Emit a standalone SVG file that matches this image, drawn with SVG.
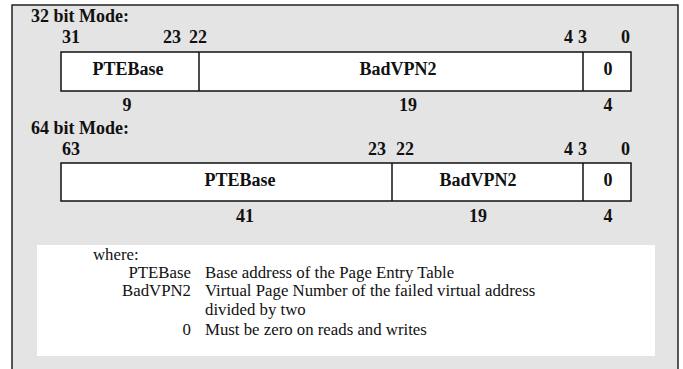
<svg xmlns="http://www.w3.org/2000/svg" width="683" height="369" viewBox="0 0 683 369">
  <style>
    .b { font-family: "Liberation Serif", "Times New Roman", serif; font-weight: bold; font-size: 18px; fill: #111; }
    .t { font-family: "Liberation Serif", "Times New Roman", serif; font-size: 16.8px; fill: #111; }
    .mid { text-anchor: middle; }
    .end { text-anchor: end; }
    .field { fill: #fff; stroke: #111; stroke-width: 1.5; }
    .div { stroke: #111; stroke-width: 1.5; }
  </style>

  <!-- outer panel -->
  <rect x="12" y="5" width="666" height="380" fill="#e4e4e4" stroke="#222" stroke-width="1.5"/>

  <!-- 32 bit layout -->
  <g id="mode32">
    <text class="b" x="31" y="22">32 bit Mode:</text>
    <text class="b" x="62" y="43">31</text>
    <text class="b end" x="181" y="43">23</text>
    <text class="b" x="189" y="43">22</text>
    <text class="b end" x="573" y="43">4</text>
    <text class="b" x="578" y="43">3</text>
    <text class="b end" x="630" y="43">0</text>
    <rect class="field" x="61" y="52" width="570" height="39"/>
    <line class="div" x1="199" y1="52" x2="199" y2="91"/>
    <line class="div" x1="583" y1="52" x2="583" y2="91"/>
    <text class="b mid" x="128" y="75">PTEBase</text>
    <text class="b mid" x="398" y="75">BadVPN2</text>
    <text class="b mid" x="608" y="75">0</text>
    <text class="b mid" x="127" y="111">9</text>
    <text class="b mid" x="408" y="111">19</text>
    <text class="b mid" x="608" y="111">4</text>
  </g>

  <!-- 64 bit layout -->
  <g id="mode64">
    <text class="b" x="31" y="134">64 bit Mode:</text>
    <text class="b" x="62" y="155">63</text>
    <text class="b end" x="386" y="155">23</text>
    <text class="b" x="396" y="155">22</text>
    <text class="b end" x="573" y="155">4</text>
    <text class="b" x="578" y="155">3</text>
    <text class="b end" x="630" y="155">0</text>
    <rect class="field" x="61" y="163" width="570" height="38"/>
    <line class="div" x1="392" y1="163" x2="392" y2="201"/>
    <line class="div" x1="583" y1="163" x2="583" y2="201"/>
    <text class="b mid" x="240" y="186">PTEBase</text>
    <text class="b mid" x="478" y="186">BadVPN2</text>
    <text class="b mid" x="608" y="186">0</text>
    <text class="b mid" x="245" y="222">41</text>
    <text class="b mid" x="478" y="222">19</text>
    <text class="b mid" x="608" y="222">4</text>
  </g>

  <!-- legend -->
  <g id="legend">
    <rect x="37" y="245" width="618" height="111" fill="#fff"/>
    <text class="t" x="93" y="260">where:</text>
    <text class="t end" x="191" y="278">PTEBase</text>
    <text class="t" x="205" y="278">Base address of the Page Entry Table</text>
    <text class="t end" x="191" y="296">BadVPN2</text>
    <text class="t" x="205" y="296">Virtual Page Number of the failed virtual address</text>
    <text class="t" x="205" y="315">divided by two</text>
    <text class="t end" x="191" y="335">0</text>
    <text class="t" x="205" y="335">Must be zero on reads and writes</text>
  </g>
</svg>
